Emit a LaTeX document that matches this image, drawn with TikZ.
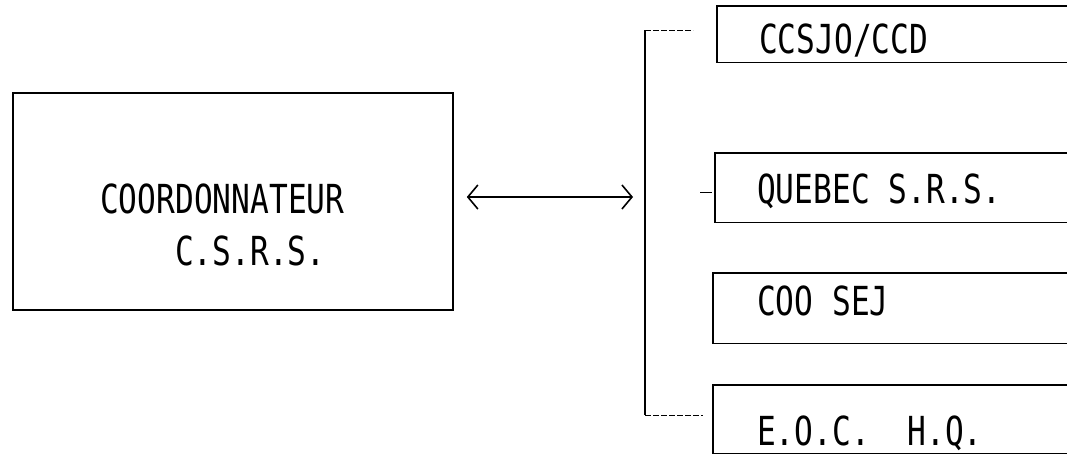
\documentclass[tikz,border=0pt]{standalone}
\usepackage{fontspec}
\newfontfamily\typ[FakeStretch=0.78]{DejaVu Sans Mono}
\usetikzlibrary{arrows.meta}
\tikzset{
  boxline/.style={draw=black, line width=1.6pt},
  mainbox/.style={boxline, minimum width=440pt, minimum height=217pt, inner sep=0pt},
  rbox/.style={anchor=north west, inner sep=0pt},
  lbl/.style={anchor=base west, inner sep=0pt, font=\typ\fontsize{40}{48}\selectfont},
  link/.style={draw=black, line width=1.6pt},
  faint/.style={draw=black, line width=1pt, dash pattern=on 6pt off 2pt},
  mytip/.tip={Straight Barb[length=10pt, width=24pt, line width=1.6pt]}
}
\begin{document}
\begin{tikzpicture}[x=1pt,y=-1pt]
\useasboundingbox (0,0) rectangle (1067,458);
\coordinate (edge) at (1067,0);
% main box
\node[mainbox] (coord) at (233,201.5) {};
\node[lbl] (t1) at (100,213) {COORDONNATEUR};
\node[lbl] (t2) at (175,265) {C.S.R.S.};
% right boxes (open on the right, running off the page)
\node[rbox, minimum width=350pt, minimum height=56pt] (ccsjo) at (717,6) {};
\node[rbox, minimum width=352pt, minimum height=69pt] (quebec) at (715,153) {};
\node[rbox, minimum width=354pt, minimum height=70pt] (coosej) at (713,273) {};
\node[rbox, minimum width=354pt, minimum height=68pt] (eoc) at (713,385) {};
\foreach \b in {ccsjo,quebec,coosej,eoc}
  \draw[boxline] (\b.north -| edge) -- (\b.north west) -- (\b.south west) -- (\b.south -| edge);
\node[lbl] (l1) at (759,53) {CCSJO/CCD};
\node[lbl] (l2) at (757,203) {QUEBEC S.R.S.};
\node[lbl] (l3) at (757,315) {COO SEJ};
\node[lbl] (l4) at (757,445) {E.O.C.\ \ H.Q.};
% bracket
\coordinate (bt) at (645,30);
\coordinate (bb) at (645,415);
\coordinate (bm) at (645,197);
\draw[link] (bt) -- (bb);
\draw[faint] (bt) -- ([xshift=-24pt]bt -| ccsjo.west);
\draw[faint] (bb) -- ([xshift=-10pt]bb -| eoc.west);
\draw[link, line width=1.2pt] ([xshift=-15pt,yshift=-4.5pt]quebec.west) -- ([xshift=-3pt,yshift=-4.5pt]quebec.west);
% double arrow
\draw[link, mytip-mytip, shorten <=13pt, shorten >=12pt] (coord.east |- bm) -- (bm);
\end{tikzpicture}
\end{document}
